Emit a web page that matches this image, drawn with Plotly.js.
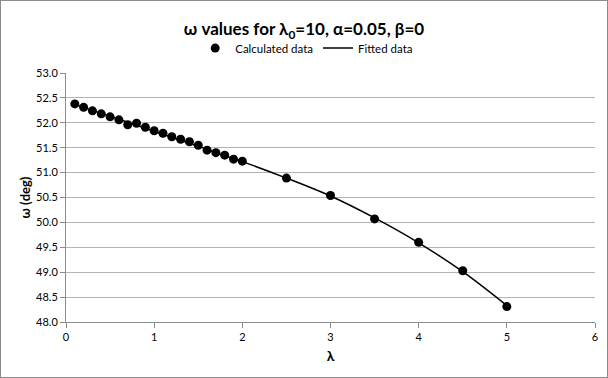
<!DOCTYPE html>
<html>
<head>
<meta charset="utf-8">
<script src="https://cdn.plot.ly/plotly-3.0.1.min.js"></script>
<style>
  html, body { margin: 0; padding: 0; background: #fff; }
  #frame { width: 606px; height: 376px; border: 1px solid #8c8c8c; }
  #chart { width: 606px; height: 376px; }
</style>
</head>
<body>
<div id="frame"><div id="chart"></div></div>
<script>
// Calculated data
const lambdaCalc = [0.1, 0.2, 0.3, 0.4, 0.5, 0.6, 0.7, 0.8, 0.9, 1.0,
                    1.1, 1.2, 1.3, 1.4, 1.5, 1.6, 1.7, 1.8, 1.9, 2.0,
                    2.5, 3.0, 3.5, 4.0, 4.5, 5.0];
const omegaCalc = [52.38, 52.31, 52.24, 52.18, 52.12, 52.06, 51.96, 51.99, 51.91, 51.84,
                   51.79, 51.72, 51.67, 51.62, 51.55, 51.45, 51.40, 51.35, 51.27, 51.23,
                   50.89, 50.54, 50.07, 49.60, 49.03, 48.31];
const omegaErr = [0.04, 0.03, 0.03, 0.05, 0.03, 0.03, 0.03, 0.03, 0.03, 0.03,
                  0.03, 0.03, 0.03, 0.03, 0.03, 0.03, 0.03, 0.03, 0.03, 0.03,
                  0.02, 0.02, 0.02, 0.02, 0.02, 0.02];
// Fitted data
const lambdaFit = [0.1, 0.2, 0.3, 0.4, 0.5, 0.6, 0.7, 0.8, 0.9, 1.0,
                   1.1, 1.2, 1.3, 1.4, 1.5, 1.6, 1.7, 1.8, 1.9, 2.0,
                   2.5, 3.0, 3.5, 4.0, 4.5, 5.0];
const omegaFit = [52.37, 52.31, 52.25, 52.19, 52.13, 52.07, 52.01, 51.95, 51.89, 51.83,
                  51.77, 51.71, 51.65, 51.59, 51.53, 51.47, 51.40, 51.34, 51.28, 51.22,
                  50.89, 50.53, 50.09, 49.59, 49.01, 48.33];

const fontFam = 'Lato, "Open Sans", sans-serif';

const traces = [
  {
    x: lambdaCalc, y: omegaCalc, type: 'scatter', mode: 'markers',
    name: 'Calculated data',
    marker: { color: '#000', size: 9, symbol: 'circle' },
    error_y: { type: 'data', array: omegaErr, visible: true, color: '#000', thickness: 1, width: 2 }
  },
  {
    x: lambdaFit, y: omegaFit, type: 'scatter', mode: 'lines',
    name: 'Fitted data',
    line: { color: '#000', width: 1.5, shape: 'spline' }
  }
];

const layout = {
  width: 606, height: 376,
  margin: { l: 65, r: 12, t: 72, b: 55 },
  paper_bgcolor: '#fff', plot_bgcolor: '#fff',
  font: { family: fontFam, color: '#404040', size: 11 },
  title: {
    text: 'ω values for λ<sub>0</sub>=10, α=0.05, β=0',
    font: { family: fontFam, size: 17, color: '#000', weight: 'bold' },
    x: 0.5, xanchor: 'center', y: 0.925, yanchor: 'middle'
  },
  showlegend: true,
  legend: {
    orientation: 'h', x: 0.455, xanchor: 'center', y: 1.1, yanchor: 'middle',
    font: { family: fontFam, size: 11.5, color: '#000' },
    itemwidth: 30, bgcolor: 'rgba(0,0,0,0)'
  },
  xaxis: {
    range: [0, 6], dtick: 1, tick0: 0,
    showgrid: false, zeroline: false,
    showline: true, linecolor: '#8c8c8c', linewidth: 1,
    ticks: 'outside', ticklen: 5, tickcolor: '#8c8c8c',
    tickfont: { family: fontFam, size: 11, color: '#000' },
    title: { text: 'λ', font: { family: fontFam, size: 14, color: '#000', weight: 'bold' }, standoff: 8 }
  },
  yaxis: {
    range: [48, 53], dtick: 0.5, tick0: 48, tickformat: '.1f',
    automargin: true,
    showgrid: true, gridcolor: '#b3b3b3', gridwidth: 1, zeroline: false,
    showline: true, linecolor: '#8c8c8c', linewidth: 1,
    ticks: 'outside', ticklen: 5, tickcolor: '#8c8c8c',
    tickfont: { family: fontFam, size: 11, color: '#000' },
    title: { text: 'ω (deg)', font: { family: fontFam, size: 13, color: '#000', weight: 'bold' }, standoff: 2 }
  }
};

Plotly.newPlot('chart', traces, layout, { displayModeBar: false, staticPlot: true });
</script>
</body>
</html>
